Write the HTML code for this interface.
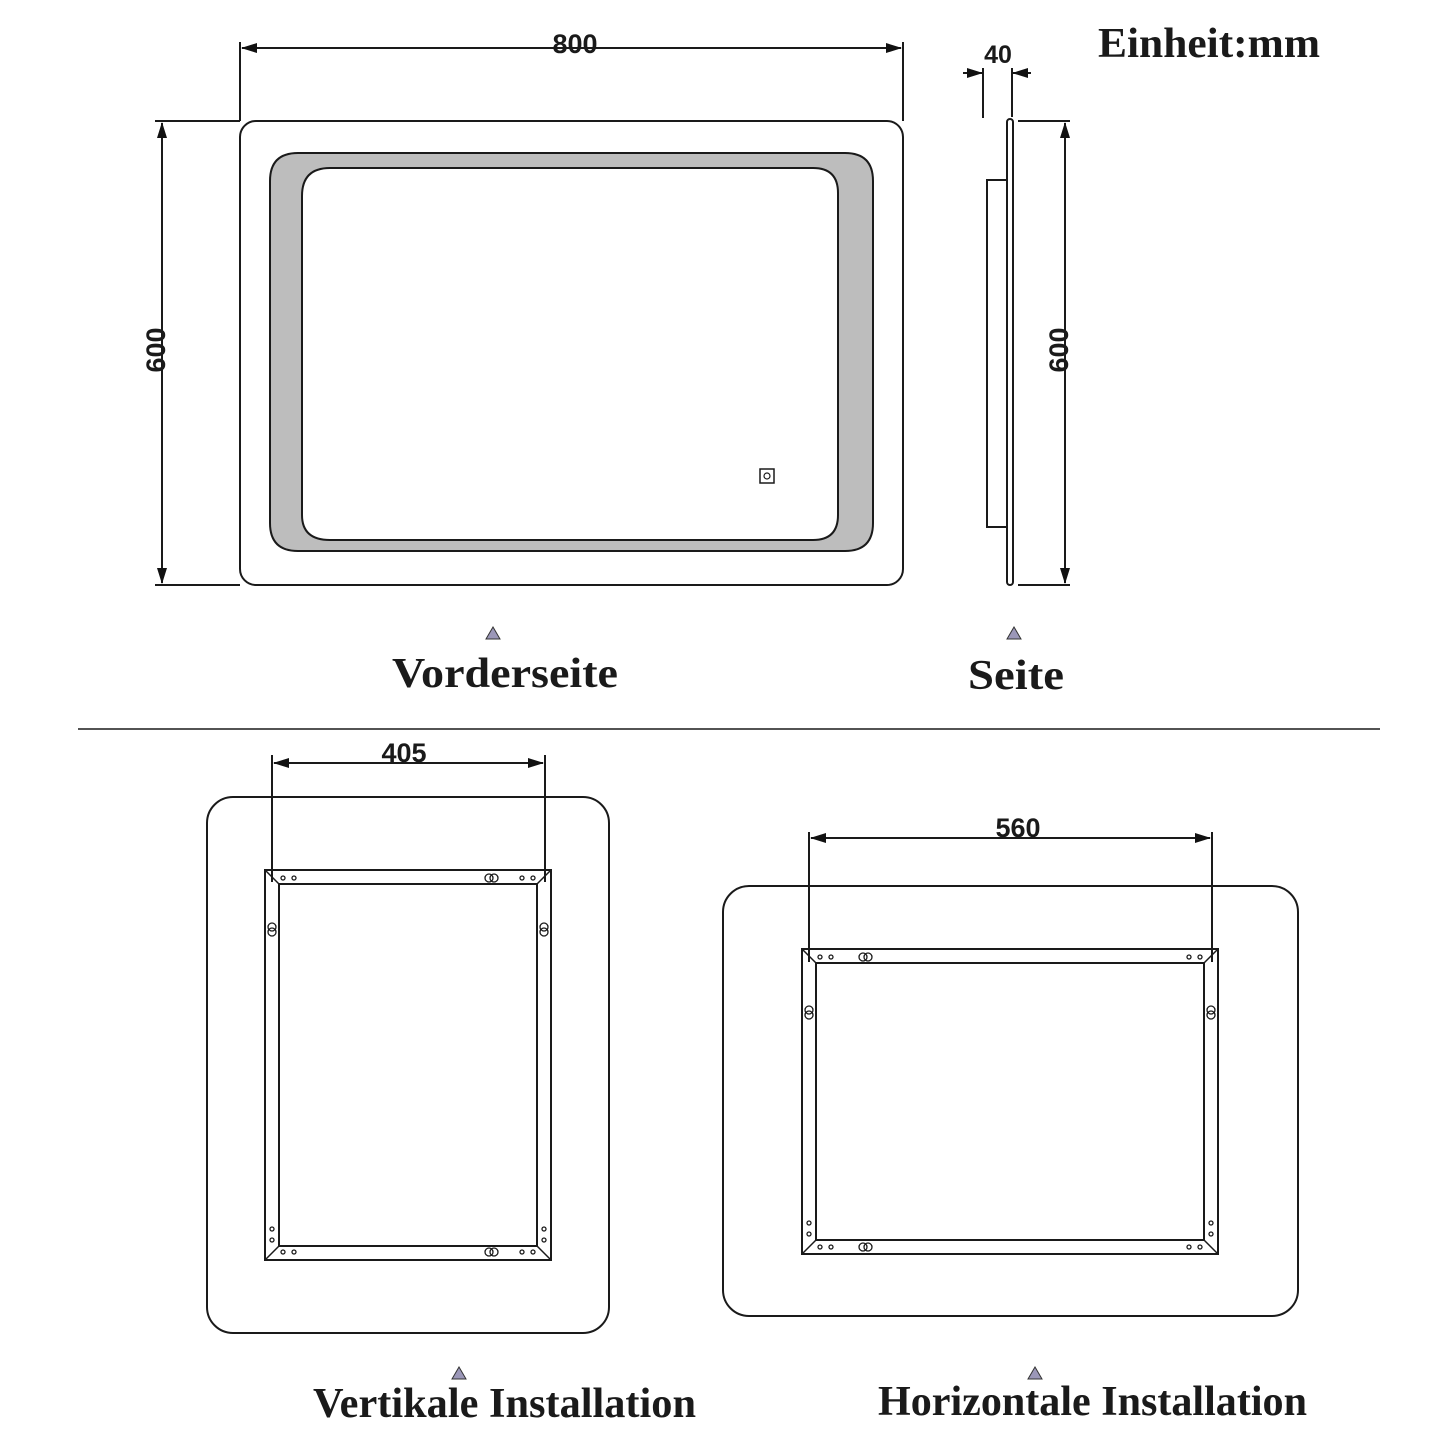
<!DOCTYPE html>
<html><head><meta charset="utf-8"><style>body{margin:0;background:#fff}svg{display:block}</style></head><body>
<svg width="1445" height="1445" viewBox="0 0 1445 1445" xmlns="http://www.w3.org/2000/svg">
<defs>
<marker id="a" markerWidth="16" markerHeight="10" refX="15" refY="5" orient="auto-start-reverse" markerUnits="userSpaceOnUse"><path d="M0,0 L16,5 L0,10 Z" fill="#111"/></marker>
</defs>
<g fill="none" stroke="#1a1a1a" stroke-width="2">
<rect x="240" y="121" width="663" height="464" rx="16"/>
<path fill-rule="evenodd" fill="#bdbdbd" d="M298,153 H845 Q873,153 873,181 V523 Q873,551 845,551 H298 Q270,551 270,523 V181 Q270,153 298,153 Z M330,168 H813 Q838,168 838,193 V515 Q838,540 813,540 H330 Q302,540 302,515 V196 Q302,168 330,168 Z"/>
<rect x="760" y="469" width="14" height="14" stroke-width="1.5"/>
<circle cx="767" cy="476" r="3" stroke-width="1.2"/>
<line x1="240" y1="42" x2="240" y2="121"/><line x1="903" y1="42" x2="903" y2="121"/>
<line x1="242" y1="48" x2="901" y2="48" marker-start="url(#a)" marker-end="url(#a)"/>
<line x1="155" y1="121" x2="240" y2="121"/><line x1="155" y1="585" x2="240" y2="585"/>
<line x1="162" y1="123" x2="162" y2="583" marker-start="url(#a)" marker-end="url(#a)"/>
<rect x="1007" y="119" width="6" height="466" rx="3"/>
<rect x="987" y="180" width="20" height="347"/>
<line x1="983" y1="68" x2="983" y2="118"/><line x1="1012" y1="68" x2="1012" y2="117"/>
<line x1="963" y1="73" x2="982" y2="73" marker-end="url(#a)"/>
<line x1="1031" y1="73" x2="1013" y2="73" marker-end="url(#a)"/>
<line x1="1018" y1="121" x2="1070" y2="121"/><line x1="1018" y1="585" x2="1070" y2="585"/>
<line x1="1065" y1="123" x2="1065" y2="583" marker-start="url(#a)" marker-end="url(#a)"/>
<line x1="78" y1="729" x2="1380" y2="729" stroke-width="1.5"/>
<rect x="207" y="797" width="402" height="536" rx="26"/>
<rect x="265" y="870" width="286" height="390"/>
<rect x="279" y="884" width="258" height="362"/>
<path d="M265,870 L279,884 M551,870 L537,884 M265,1260 L279,1246 M551,1260 L537,1246" stroke-width="1.5"/>
<line x1="272" y1="755" x2="272" y2="882"/><line x1="545" y1="755" x2="545" y2="882"/>
<line x1="274" y1="763" x2="543" y2="763" marker-start="url(#a)" marker-end="url(#a)"/>
<rect x="723" y="886" width="575" height="430" rx="26"/>
<rect x="802" y="949" width="416" height="305"/>
<rect x="816" y="963" width="388" height="277"/>
<path d="M802,949 L816,963 M1218,949 L1204,963 M802,1254 L816,1240 M1218,1254 L1204,1240" stroke-width="1.5"/>
<line x1="809" y1="832" x2="809" y2="962"/><line x1="1212" y1="832" x2="1212" y2="962"/>
<line x1="811" y1="838" x2="1210" y2="838" marker-start="url(#a)" marker-end="url(#a)"/>
</g>
<g fill="none" stroke="#1a1a1a" stroke-width="1.3">
<circle cx="283" cy="878" r="2"/><circle cx="294" cy="878" r="2"/><circle cx="522" cy="878" r="2"/><circle cx="533" cy="878" r="2"/>
<circle cx="283" cy="1252" r="2"/><circle cx="294" cy="1252" r="2"/><circle cx="522" cy="1252" r="2"/><circle cx="533" cy="1252" r="2"/>
<circle cx="272" cy="1229" r="2"/><circle cx="272" cy="1240" r="2"/><circle cx="544" cy="1229" r="2"/><circle cx="544" cy="1240" r="2"/>
<circle cx="489" cy="878" r="4"/><circle cx="494" cy="878" r="4"/><circle cx="489" cy="1252" r="4"/><circle cx="494" cy="1252" r="4"/>
<circle cx="272" cy="927" r="4"/><circle cx="272" cy="932" r="4"/><circle cx="544" cy="927" r="4"/><circle cx="544" cy="932" r="4"/>
<circle cx="820" cy="957" r="2"/><circle cx="831" cy="957" r="2"/><circle cx="1189" cy="957" r="2"/><circle cx="1200" cy="957" r="2"/>
<circle cx="820" cy="1247" r="2"/><circle cx="831" cy="1247" r="2"/><circle cx="1189" cy="1247" r="2"/><circle cx="1200" cy="1247" r="2"/>
<circle cx="809" cy="1223" r="2"/><circle cx="809" cy="1234" r="2"/><circle cx="1211" cy="1223" r="2"/><circle cx="1211" cy="1234" r="2"/>
<circle cx="863" cy="957" r="4"/><circle cx="868" cy="957" r="4"/><circle cx="863" cy="1247" r="4"/><circle cx="868" cy="1247" r="4"/>
<circle cx="809" cy="1010" r="4"/><circle cx="809" cy="1015" r="4"/><circle cx="1211" cy="1010" r="4"/><circle cx="1211" cy="1015" r="4"/>
</g>
<g fill="#9b97b8" stroke="#333" stroke-width="1">
<path d="M486,639 L493,627 L500,639 Z"/><path d="M1007,639 L1014,627 L1021,639 Z"/>
<path d="M452,1379 L459,1367 L466,1379 Z"/><path d="M1028,1379 L1035,1367 L1042,1379 Z"/>
</g>
<g font-family="Liberation Sans, sans-serif" font-weight="bold" font-size="27" fill="#1a1a1a" text-anchor="middle">
<text x="575" y="53">800</text>
<text x="998" y="63" font-size="25">40</text>
<text x="404" y="762">405</text>
<text x="1018" y="837">560</text>
<text transform="translate(165,350) rotate(-90)">600</text>
<text transform="translate(1068,350) rotate(-90)">600</text>
</g>
<g font-family="Liberation Serif, serif" font-weight="bold" fill="#1a1a1a" font-size="42" lengthAdjust="spacingAndGlyphs">
<text x="1098" y="57" textLength="222" lengthAdjust="spacingAndGlyphs">Einheit:mm</text>
<text x="392" y="687" textLength="226" lengthAdjust="spacingAndGlyphs">Vorderseite</text>
<text x="968" y="689" textLength="96" lengthAdjust="spacingAndGlyphs">Seite</text>
<text x="313" y="1417" textLength="383" lengthAdjust="spacingAndGlyphs">Vertikale Installation</text>
<text x="878" y="1415" textLength="429" lengthAdjust="spacingAndGlyphs">Horizontale Installation</text>
</g>
</svg>
</body></html>
